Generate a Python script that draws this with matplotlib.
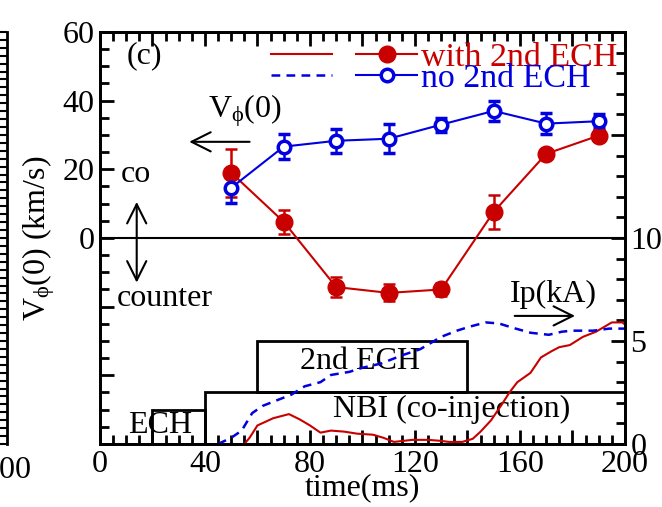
import numpy as np
import matplotlib
matplotlib.use("Agg")
import matplotlib.pyplot as plt
from matplotlib.lines import Line2D
from matplotlib.legend_handler import HandlerTuple
from matplotlib.patches import Rectangle
from matplotlib.ticker import MultipleLocator, FuncFormatter

plt.rcParams['font.family'] = 'Liberation Serif'
plt.rcParams['mathtext.fontset'] = 'custom'
plt.rcParams['mathtext.rm'] = 'Liberation Serif'
plt.rcParams['mathtext.it'] = 'Liberation Serif'
plt.rcParams['font.size'] = 23

# toroidal rotation V_phi(0) (km/s)
t_v = [50, 70, 90, 110, 130, 150, 170, 190]
v_with = [19.0, 4.7, -14.3, -16.0, -15.0, 7.6, 24.5, 29.8]
err_with = [7.0, 3.5, 3.0, 2.5, 2.0, 5.0, 1.5, 1.5]
v_no = [14.6, 26.6, 28.3, 28.9, 33.0, 37.0, 33.3, 34.0]
err_no = [4.5, 3.7, 3.5, 4.3, 2.0, 3.0, 3.0, 2.0]

# plasma current Ip (kA)
t_ip_no = [45, 50, 54, 58, 62, 67, 73, 78, 84, 88, 95, 100, 107, 115, 122, 130,
           136, 141, 147, 152, 157, 164, 171, 176, 180, 188, 194, 200]
ip_no = [0, 0.3, 0.65, 1.5, 1.85, 2.1, 2.4, 2.8, 3.0, 3.35, 3.5, 3.7, 3.9, 4.3, 4.6, 5.2,
         5.5, 5.7, 5.9, 5.85, 5.65, 5.4, 5.3, 5.45, 5.5, 5.5, 5.6, 5.6]
t_ip_with = [55, 57, 60, 66, 72, 76, 80, 84, 88, 93, 98, 104, 108, 112, 119, 125, 130,
             133, 138, 142, 145, 149, 153, 156, 159, 164, 168, 172, 175, 179, 184, 189,
             195, 199, 200]
ip_with = [0, 0.3, 0.9, 1.25, 1.45, 1.2, 0.9, 0.55, 0.65, 0.6, 0.5, 0.45, 0.3, 0.1, 0.2,
           0.2, 0.15, 0.1, 0.1, 0.25, 0.6, 1.15, 1.9, 2.5, 3.0, 3.45, 4.2, 4.5, 4.7, 4.8,
           5.2, 5.45, 5.9, 5.9, 5.8]

# heating timing boxes (start, end, bottom, top) in V axis units
boxes = {
    'ECH': (20, 40, -60, -50),
    'NBI': (40, 200, -60, -45),
    '2nd ECH': (60, 140, -45, -30),
}

red = '#c80000'
blue = '#0000e0'
arrow = dict(arrowstyle='->,head_length=0.6,head_width=0.3', lw=1.5, color='k',
             shrinkA=0, shrinkB=0)

fig = plt.figure(figsize=(6.62, 5.07), dpi=100)
ax = fig.add_axes([0.151, 0.1243, 0.793, 0.8127])
ax2 = ax.twinx()

# neighbouring panel fragment at left edge
axl = fig.add_axes([-0.2, 0.1243, 0.2106, 0.8127])
for s in ['left', 'top', 'bottom']:
    axl.spines[s].set_visible(False)
axl.spines['right'].set_linewidth(2)
axl.set_xticks([])
axl.yaxis.tick_right()
axl.set_ylim(0, 52)
axl.yaxis.set_major_locator(MultipleLocator(5))
axl.yaxis.set_minor_locator(MultipleLocator(1))
axl.tick_params(axis='y', which='both', direction='in', width=1.5, labelright=False)
axl.tick_params(axis='y', which='major', length=7)
axl.tick_params(axis='y', which='minor', length=5)
fig.text(32 / 662, 1 - 470 / 507, '200', ha='right', va='center', fontsize=23)

# boxes
for name, (x0, x1, y0, y1) in boxes.items():
    ax.add_patch(Rectangle((x0, y0), x1 - x0, y1 - y0, fill=False, ec='k', lw=2, zorder=2))

ax.axhline(0, color='k', lw=1.5, zorder=2)

ax.errorbar(t_v, v_with, yerr=err_with, fmt='o-', color=red, ms=12, lw=1.5,
            elinewidth=1.8, capsize=4, capthick=1.8, zorder=5)
ax.errorbar(t_v, v_no, yerr=err_no, fmt='o-', color=blue, mfc='white', mec=blue,
            mew=2.5, ms=9, lw=1.5, elinewidth=1.8, capsize=4, capthick=1.8, zorder=5)

ax2.plot(t_ip_with, ip_with, color=red, lw=1.5)
ax2.plot(t_ip_no, ip_no, color=blue, lw=1.8, ls=(0, (3.5, 2.5)))

ax.set_xlim(0, 200)
ax.set_ylim(-60, 60)
ax2.set_ylim(0, 20)

ax.xaxis.set_major_locator(MultipleLocator(20))
ax.xaxis.set_minor_locator(MultipleLocator(5))
ax.xaxis.set_major_formatter(FuncFormatter(lambda v, p: f'{v:.0f}' if v % 40 == 0 else ''))
ax.yaxis.set_major_locator(MultipleLocator(20))
ax.yaxis.set_minor_locator(MultipleLocator(5))
ax.yaxis.set_major_formatter(FuncFormatter(lambda v, p: f'{v:.0f}' if v >= 0 else ''))
ax2.yaxis.set_major_locator(MultipleLocator(5))
ax2.yaxis.set_minor_locator(MultipleLocator(1))
ax2.yaxis.set_major_formatter(FuncFormatter(lambda v, p: f'{v:.0f}' if v <= 10 else ''))

for a in (ax, ax2):
    for s in a.spines.values():
        s.set_linewidth(2)
ax.tick_params(axis='x', which='both', bottom=True, top=True, direction='in',
               width=2, color='k', labelsize=23, pad=4)
ax.tick_params(axis='y', which='both', left=True, right=False, direction='in',
               width=2, color='k', labelsize=23, pad=4)
ax.tick_params(which='major', length=10)
ax.tick_params(which='minor', length=6.5)
ax2.tick_params(which='both', direction='in', width=2, labelsize=23, pad=4)
ax2.tick_params(which='major', length=10)
ax2.tick_params(which='minor', length=6.5)

ax.set_xlabel('time(ms)', labelpad=-4)
ax.set_ylabel(r'V$_{\phi}$(0) (km/s)', labelpad=4)

# annotations
ax.text(10, 53, '(c)', va='center', ha='left')
ax.text(41, 35, r'V$_{\phi}$(0)', ha='left', va='baseline')
ax.annotate('', xy=(34, 28), xytext=(57, 28), arrowprops=arrow)
ax.text(8, 18.5, 'co', ha='left', va='center')
ax.annotate('', xy=(14, 10.5), xytext=(14, 0), arrowprops=arrow)
ax.annotate('', xy=(14, -13), xytext=(14, 0), arrowprops=arrow)
ax.text(6.5, -17.5, 'counter', ha='left', va='center')
ax.text(156, -16.5, 'Ip(kA)', ha='left', va='center')
ax.annotate('', xy=(181, -22.7), xytext=(158, -22.7), arrowprops=arrow)
ax.text(99, -36, '2nd ECH', ha='center', va='center')
ax.text(134, -50, 'NBI (co-injection)', ha='center', va='center')
ax.text(23, -54.5, 'ECH', ha='center', va='center')

# legend
h_with = (Line2D([], [], color=red, lw=1.5),
          Line2D([], [], color=red, lw=1.5, marker='o', ms=12))
h_no = (Line2D([], [], color=blue, lw=1.8, ls=(0, (3.5, 2.5))),
        Line2D([], [], color=blue, lw=1.5, marker='o', ms=9, mfc='white', mew=2.5))
leg = ax.legend([h_with, h_no], ['with 2nd ECH', 'no 2nd ECH'],
                handler_map={tuple: HandlerTuple(ndivide=None, pad=0.7)},
                loc='upper right', bbox_to_anchor=(0.985, 0.975), frameon=False,
                handlelength=4.3, handletextpad=0.1, labelspacing=-0.3,
                borderaxespad=0, borderpad=0, fontsize=24.5)
for txt, c in zip(leg.get_texts(), [red, blue]):
    txt.set_color(c)

fig.savefig('out.png', dpi=100)
